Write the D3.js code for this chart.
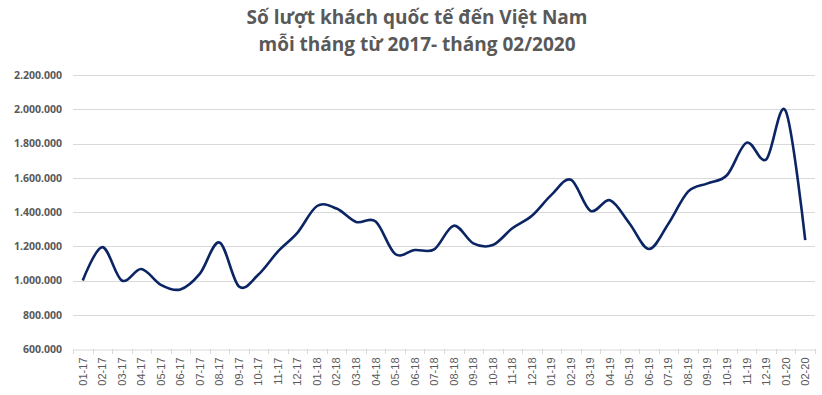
<html>
<head>
<meta charset="utf-8">
<title>Khach quoc te</title>
<script src="https://cdn.jsdelivr.net/npm/d3@7"></script>
<style>
  body { margin: 0; background: #fff; }
  svg { display: block; }
  .ylab text { font-family: "Open Sans", Arial, sans-serif; font-size: 10.5px; font-weight: bold; fill: #595959; }
  .xlab text { font-family: "Liberation Sans", Arial, sans-serif; font-size: 11px; fill: #595959; }
</style>
</head>
<body>
<svg id="svg"></svg>
<script>
// months, Jan 2017 -> Feb 2020
var months = ["01-17","02-17","03-17","04-17","05-17","06-17","07-17","08-17","09-17","10-17","11-17","12-17",
              "01-18","02-18","03-18","04-18","05-18","06-18","07-18","08-18","09-18","10-18","11-18","12-18",
              "01-19","02-19","03-19","04-19","05-19","06-19","07-19","08-19","09-19","10-19","11-19","12-19",
              "01-20","02-20"];

// visitors per month
var visitors = [1000000,1195000,1000000,1067000,975000,948000,1040000,1222000,965000,1035000,1170000,1280000,
                1435000,1420000,1342000,1344000,1155000,1178000,1182000,1320000,1217000,1207000,1305000,1378000,
                1500000,1588000,1407000,1468000,1333000,1184000,1333000,1519000,1567000,1616000,1805000,1707000,
                1990000,1236000];

var yTicks = [600000,800000,1000000,1200000,1400000,1600000,1800000,2000000,2200000];

var titleLines = ["Số lượt khách quốc tế đến Việt Nam", "mỗi tháng từ 2017- tháng 02/2020"];

var svgWidth = 822, svgHeight = 395;
var plotLeft = 73, plotRight = 815, plotTop = 75, plotBottom = 349;

var svg = d3.select("svg").attr("width", svgWidth).attr("height", svgHeight);

var x = d3.scaleBand().domain(months).range([plotLeft, plotRight]);
var y = d3.scaleLinear().domain([600000, 2200000]).range([plotBottom, plotTop]);

// dot thousands separator
var fmt = function(v){ return d3.format(",")(v).replace(/,/g, "."); };

// gridlines
svg.append("g").selectAll("line")
    .data(yTicks.slice(1))
    .enter().append("line")
    .attr("x1", plotLeft).attr("x2", plotRight)
    .attr("y1", function(d){ return Math.round(y(d)) + 0.5; })
    .attr("y2", function(d){ return Math.round(y(d)) + 0.5; })
    .attr("stroke", "#d9d9d9").attr("stroke-width", 1);

// y labels
var yAxis = d3.axisLeft(y).tickValues(yTicks).tickFormat(fmt).tickSize(0).tickPadding(11);
var gY = svg.append("g").attr("class", "ylab")
    .attr("transform", "translate(" + plotLeft + ",0)")
    .call(yAxis);
gY.select(".domain").remove();

// x axis
var xAxis = d3.axisBottom(x).tickSizeInner(0).tickSizeOuter(0);
var gX = svg.append("g").attr("class", "xlab")
    .attr("transform", "translate(0," + (plotBottom + 0.5) + ")")
    .call(xAxis);
gX.select(".domain").attr("stroke", "#d9d9d9");
gX.selectAll("text")
    .attr("transform", "rotate(-90)")
    .attr("text-anchor", "end")
    .attr("x", -8).attr("y", 0).attr("dy", "0.35em");

// category separator ticks
svg.append("g").selectAll("line")
    .data(months.concat(["end"]))
    .enter().append("line")
    .attr("x1", function(d, i){ return Math.round(plotLeft + i * x.step()) + 0.5; })
    .attr("x2", function(d, i){ return Math.round(plotLeft + i * x.step()) + 0.5; })
    .attr("y1", plotBottom).attr("y2", plotBottom + 5)
    .attr("stroke", "#d9d9d9");

// the smoothed line
var line = d3.line()
    .x(function(d, i){ return x(months[i]) + x.bandwidth() / 2; })
    .y(function(d){ return y(d); })
    .curve(d3.curveCardinal.tension(0));

svg.append("path")
    .datum(visitors)
    .attr("d", line)
    .attr("fill", "none")
    .attr("stroke", "#0b2463")
    .attr("stroke-width", 2.6)
    .attr("stroke-linejoin", "round");

// title
svg.append("g").selectAll("text")
    .data(titleLines)
    .enter().append("text")
    .attr("x", 417)
    .attr("y", function(d, i){ return 24 + i * 27; })
    .attr("text-anchor", "middle")
    .attr("font-family", "'Open Sans', Arial, sans-serif")
    .attr("font-size", "19px")
    .attr("font-weight", "bold")
    .attr("fill", "#595959")
    .text(function(d){ return d; });
</script>
</body>
</html>
